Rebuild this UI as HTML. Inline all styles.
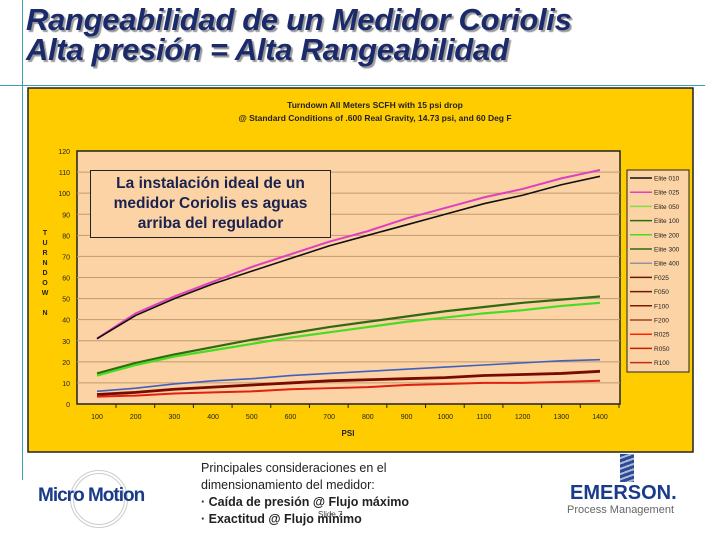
<!DOCTYPE html>
<html><head><meta charset="utf-8"><style>
body{margin:0;width:720px;height:540px;background:#fff;overflow:hidden;position:relative;font-family:"Liberation Sans",sans-serif}
.abs{position:absolute}
</style></head><body>
<div class="abs" style="left:22px;top:0;width:1px;height:480px;background:#3aa0b0"></div>
<div class="abs" style="left:0;top:85px;width:705px;height:1px;background:#3aa0b0"></div>
<div class="abs" style="left:26px;top:5px;font-size:31px;line-height:30px;font-weight:bold;font-style:italic;color:#1a2a6a;text-shadow:2px 2px 1px #999;letter-spacing:-0.3px">Rangeabilidad de un Medidor Coriolis<br>Alta presión = Alta Rangeabilidad</div>

<svg class="abs" style="left:0;top:0" width="720" height="540">
<rect x="28" y="88" width="665" height="364" fill="#ffcc00" stroke="#222" stroke-width="1.5"/>
<text x="375" y="108" font-size="8.5" font-weight="bold" text-anchor="middle" fill="#222">Turndown All Meters SCFH with 15 psi drop</text>
<text x="375" y="121" font-size="8.5" font-weight="bold" text-anchor="middle" fill="#222">@ Standard Conditions of .600 Real Gravity, 14.73 psi, and 60 Deg F</text>
<rect x="77" y="151" width="543" height="253" fill="#fcd3a4" stroke="#222" stroke-width="1.5"/>
<g id="grid"></g><g id="yt"></g><g id="xt"></g><g id="lines"></g>
<g fill="#222" font-size="7" font-weight="bold" text-anchor="middle">
<text x="45" y="235">T</text><text x="45" y="245">U</text><text x="45" y="255">R</text><text x="45" y="265">N</text><text x="45" y="275">D</text><text x="45" y="285">O</text><text x="45" y="295">W</text><text x="45" y="315">N</text></g>
<text x="348" y="436" font-size="8" font-weight="bold" text-anchor="middle" fill="#222">PSI</text>
<rect x="627" y="170" width="62" height="202" fill="#fcd3a4" stroke="#222"/>
<g id="legend"></g>
</svg>

<div class="abs" style="left:90px;top:170px;width:241px;height:68px;background:#fcd3a4;border:1px solid #222;color:#1a2250;font-weight:bold;font-size:15.5px;line-height:20px;text-align:center;padding-top:3px;box-sizing:border-box">La instalación ideal de un medidor Coriolis es aguas arriba del regulador</div>

<div class="abs" style="left:38px;top:470px;width:120px;height:60px">
<div class="abs" style="left:32px;top:0;width:50px;height:50px;border:4px double #ccc;border-radius:50%"></div>
<div class="abs" style="left:0;top:15px;font-size:19px;font-weight:bold;color:#1a3a8a;letter-spacing:-1px">Micro Motion</div></div>
<div class="abs" style="left:201px;top:460px;font-size:12.5px;line-height:17px;color:#222">Principales consideraciones en el<br>dimensionamiento del medidor:<br><b>· Caída de presión @ Flujo máximo<br>· Exactitud @ Flujo mínimo</b></div>
<div class="abs" style="left:318px;top:510px;font-size:8px;color:#444">Slide 7</div>
<div class="abs" style="left:565px;top:452px;width:125px;height:70px">
<div class="abs" style="left:55px;top:2px;width:14px;height:28px;background:repeating-linear-gradient(160deg,#2a4a9a 0 3px,#b0b8d0 3px 5px)"></div>
<div class="abs" style="left:5px;top:30px;font-size:20px;font-weight:bold;color:#1a3a8a">EMERSON.</div>
<div class="abs" style="left:2px;top:52px;font-size:11px;color:#666">Process Management</div></div>

<script>
const categories=[100,200,300,400,500,600,700,800,900,1000,1100,1200,1300,1400];
const yTicks=[0,10,20,30,40,50,60,70,80,90,100,110,120];
const elite010=[31,42,50,57,63,69,75,80,85,90,95,99,104,108];
const elite025=[31,43,51,58,65,71,77,82,88,93,98,102,107,111];
const elite100=[14.5,19.5,23.5,27,30.5,33.5,36.5,39,41.5,44,46,48,49.5,51];
const elite050=[13.5,18.5,22.5,25.5,28.5,31.5,34,36.5,39,41,43,44.5,46.5,48];
const elite400=[6,7.5,9.5,11,12,13.5,14.5,15.5,16.5,17.5,18.5,19.5,20.5,21];
const fSeries=[4.5,5.5,7,8,9,10,11,11.5,12,12.5,13.5,14,14.5,15.5];
const rSeries=[3.5,4,5,5.5,6,7,7.5,8,9,9.5,10,10,10.5,11];
const legendLabels=["Elite 010","Elite 025","Elite 050","Elite 100","Elite 200","Elite 300","Elite 400","F025","F050","F100","F200","R025","R050","R100"];
const NS="http://www.w3.org/2000/svg";
const X=v=>97+(v-100)*(503/1300);
const Y=v=>404-v*(253/120);
function mk(t,a,p){const e=document.createElementNS(NS,t);for(const k in a)e.setAttribute(k,a[k]);document.getElementById(p).appendChild(e);return e;}
yTicks.forEach(t=>{
 if(t>0&&t<120){const g=mk('line',{x1:77,x2:620,y1:Y(t),y2:Y(t),stroke:'#c09a70','stroke-width':1},'grid');
 
 }
 const tx=mk('text',{x:70,y:Y(t)+3,'font-size':7,'text-anchor':'end',fill:'#222'},'yt');tx.textContent=t;
 
 
});
categories.forEach(c=>{
 mk('line',{x1:X(c)+19,x2:X(c)+19,y1:404,y2:408,stroke:'#222'},'xt');
 const tx=mk('text',{x:X(c),y:419,'font-size':7,'text-anchor':'middle',fill:'#222'},'xt');tx.textContent=c;
 
 
});
const series=[[elite100,'#2e6a10',2.2,'series-elite-100'],[elite050,'#44dd22',2.2,'series-elite-050'],[elite400,'#4060c0',1.6,'series-elite-400'],[fSeries,'#7a0a00',2.8,'series-f'],[rSeries,'#e02010',2,'series-r'],[elite025,'#e040c0',2,'series-elite-025'],[elite010,'#111',1.6,'series-elite-010']];
series.forEach(s=>{
 const p=mk('polyline',{points:s[0].map((v,i)=>X(categories[i])+','+Y(v)).join(' '),fill:'none',stroke:s[1],'stroke-width':s[2]},'lines');
 
 
});
const lc=['#111','#e040c0','#88dd44','#2e6a10','#44dd22','#2e6a10','#9a90a0','#6a1a00','#6a1a00','#7a1a00','#a04020','#ff2000','#c02000','#c03010'];
legendLabels.forEach((l,i)=>{
 const y=178+i*14.2;
 mk('line',{x1:630,x2:652,y1:y,y2:y,stroke:lc[i],'stroke-width':1.5},'legend');
 const t=mk('text',{x:654,y:y+2.5,'font-size':6.5,fill:'#222'},'legend');t.textContent=l;
 
 
});
</script>
</body></html>
